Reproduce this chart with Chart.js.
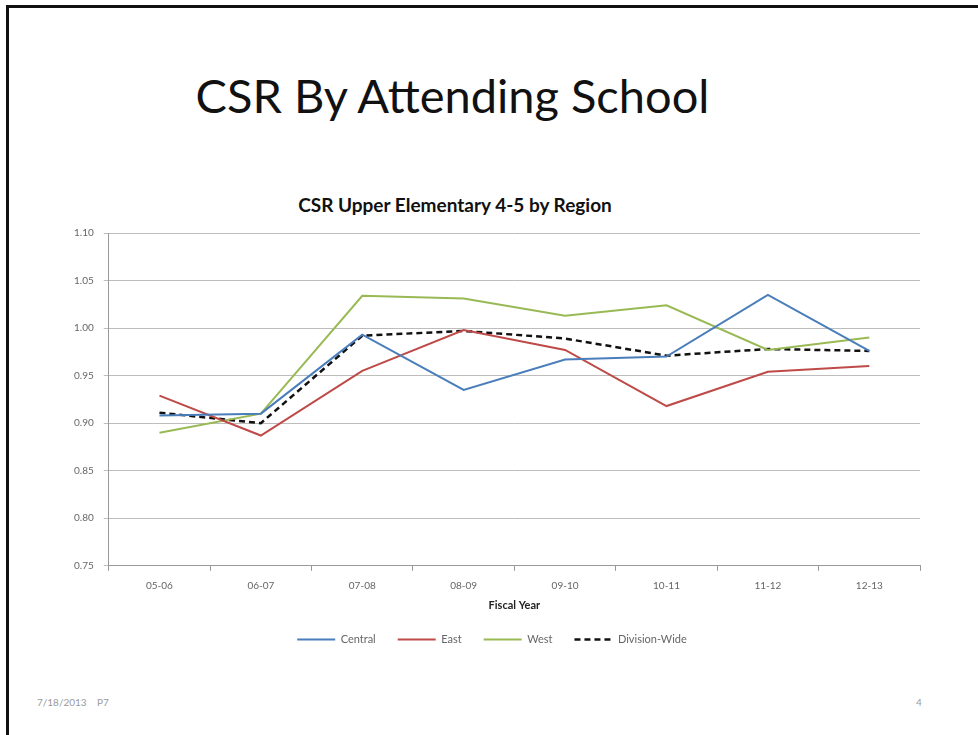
<!DOCTYPE html>
<html lang="en">
<head>
  <meta charset="UTF-8">
  <title>CSR By Attending School</title>
  <script src="https://cdn.jsdelivr.net/npm/chart.js"></script>
  <style>
    body { margin: 0; width: 978px; height: 735px; background: #fff; position: relative; overflow: hidden; font-family: Lato, "Open Sans", sans-serif; }
    #frame { position: absolute; left: 6px; top: 5px; width: 1000px; height: 800px; border-left: 3px solid #111; border-top: 3px solid #111; }
    #slideTitle { position: absolute; left: 0; width: 905px; top: 67px; text-align: center; font-size: 47px; color: #111; line-height: 56px; }
    #chartTitle { position: absolute; left: 0; width: 910px; top: 193px; text-align: center; font-size: 19px; font-weight: bold; color: #111; }
    #wrap { position: absolute; left: 40px; top: 217px; width: 914px; height: 438px; }
    .foot { position: absolute; top: 696px; font-size: 10px; color: #9a9a9a; }
  </style>
</head>
<body>
  <div id="frame"></div>
  <div id="slideTitle">CSR By Attending School</div>
  <div id="chartTitle">CSR Upper Elementary 4-5 by Region</div>
  <div id="wrap"><canvas id="csrChart"></canvas></div>
  <div class="foot" style="left:37px">7/18/2013</div>
  <div class="foot" style="left:97px">P7</div>
  <div class="foot" style="left:916px">4</div>

  <script>
    // fiscal years
    const years = ['05-06', '06-07', '07-08', '08-09', '09-10', '10-11', '11-12', '12-13'];

    // CSR values
    const central  = [0.908, 0.910, 0.993, 0.935, 0.967, 0.970, 1.035, 0.976];
    const east     = [0.929, 0.887, 0.955, 0.998, 0.977, 0.918, 0.954, 0.960];
    const west     = [0.890, 0.910, 1.034, 1.031, 1.013, 1.024, 0.977, 0.990];
    const division = [0.911, 0.900, 0.992, 0.997, 0.989, 0.971, 0.978, 0.976];

    const yTicks = [0.75, 0.80, 0.85, 0.90, 0.95, 1.00, 1.05, 1.10];

    function line(label, data, color, dash) {
      return {
        label: label,
        data: data,
        borderColor: color,
        backgroundColor: color,
        borderWidth: dash ? 2.5 : 2,
        borderDash: dash || [],
        pointRadius: 0,
        tension: 0
      };
    }

    const ctx = document.getElementById('csrChart').getContext('2d');
    new Chart(ctx, {
      type: 'line',
      data: {
        labels: years,
        datasets: [
          line('Central', central, '#4a7ebb'),
          line('East', east, '#be4b48'),
          line('West', west, '#98b954'),
          line('Division-Wide', division, '#111', [6, 4])
        ]
      },
      options: {
        responsive: true,
        maintainAspectRatio: false,
        animation: false,
        layout: { padding: { top: 13, left: 24, right: 34, bottom: 0 } },
        scales: {
          x: {
            offset: true,
            grid: { offset: true, drawOnChartArea: false, drawTicks: true, tickLength: 5, color: '#999' },
            border: { color: '#999' },
            ticks: { color: '#666', font: { size: 10, family: 'Lato' }, padding: 9 },
            title: { display: true, text: 'Fiscal Year', color: '#222', font: { size: 11, weight: 'bold', family: 'Lato' }, padding: { top: -2, bottom: 0 } }
          },
          y: {
            min: 0.75,
            max: 1.10,
            afterBuildTicks: axis => { axis.ticks = yTicks.map(v => ({ value: v })); },
            grid: { color: '#bdbdbd', tickLength: 5 },
            border: { color: '#999' },
            ticks: { color: '#666', font: { size: 10, family: 'Lato' }, padding: 10, callback: v => v.toFixed(2) }
          }
        },
        plugins: {
          legend: {
            position: 'bottom',
            labels: { boxWidth: 38, boxHeight: 0, padding: 22, color: '#666', font: { size: 11, family: 'Lato' } }
          },
          tooltip: { enabled: false }
        }
      }
    });
  </script>
</body>
</html>
